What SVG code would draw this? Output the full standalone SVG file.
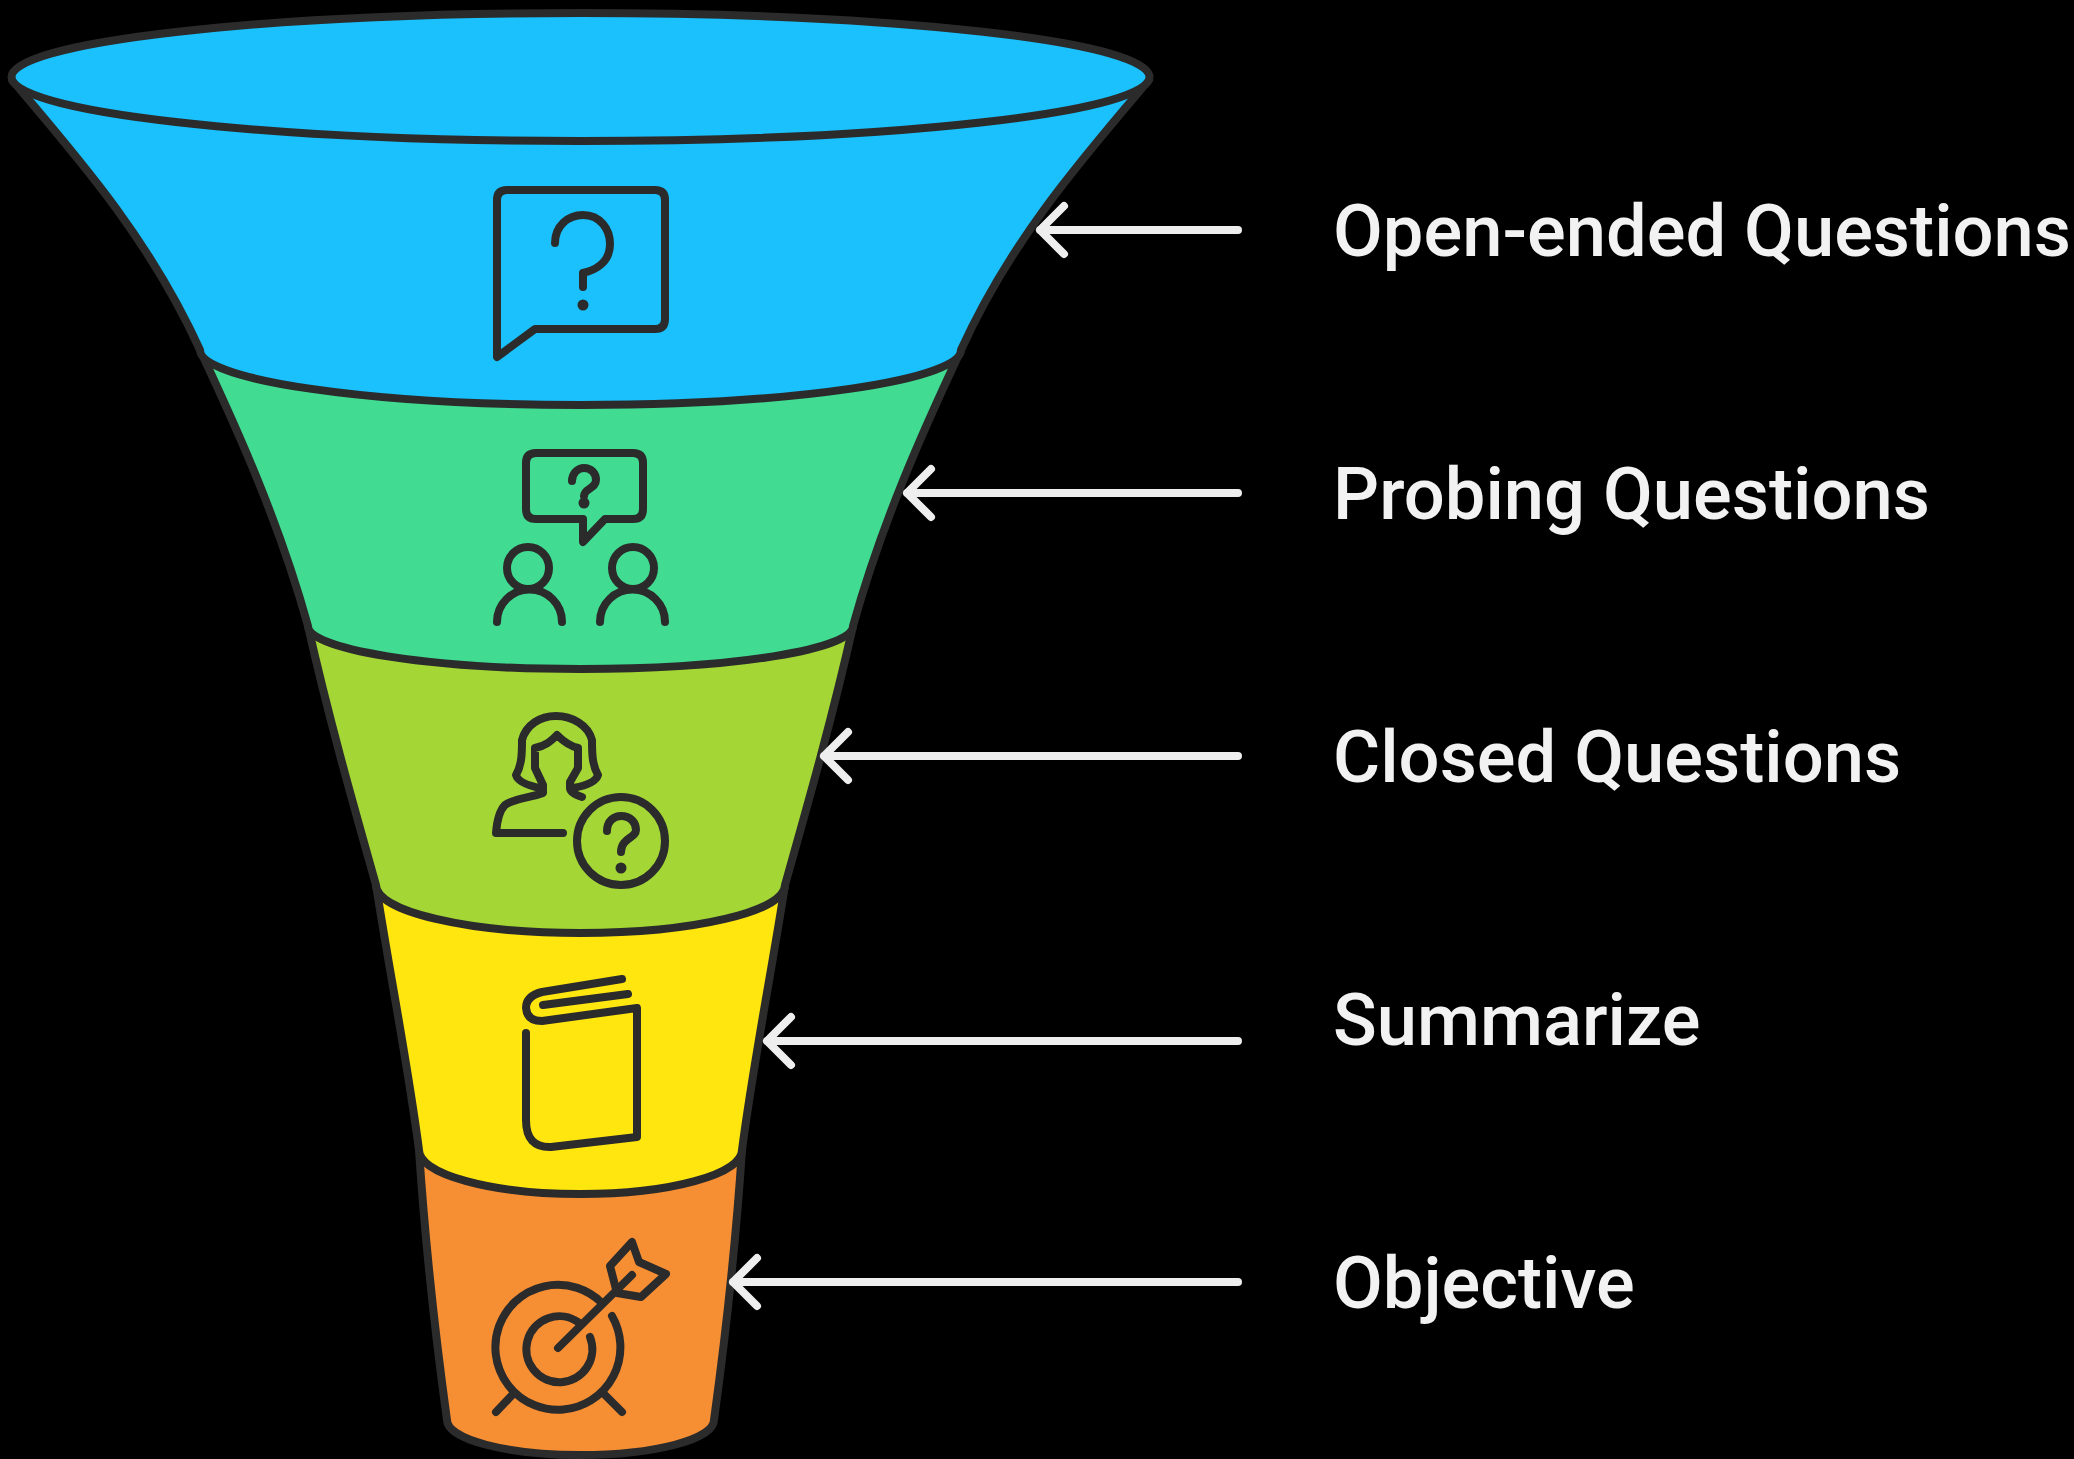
<svg xmlns="http://www.w3.org/2000/svg" width="2074" height="1459" viewBox="0 0 2074 1459">
<style>
.band{stroke:#2b2b2b;stroke-width:8;stroke-linejoin:round}
.ic{fill:none;stroke:#2b2b2b;stroke-width:8;stroke-linecap:round;stroke-linejoin:round}
.dot{fill:#2b2b2b}
.arr{fill:none;stroke:#eeeeee;stroke-width:8;stroke-linecap:round;stroke-linejoin:round}
.lb{font-family:Roboto,"Liberation Sans",sans-serif;font-size:72.300px;font-weight:500;fill:#f2f2f2}
</style>
<rect width="2074" height="1459" fill="#000000"/>
<g id="objective">
<path class="band" fill="#f68e33" d="M419 1150C425 1240 436 1340 447 1420A133.500 35 0 0 0 714 1420C725 1340 736 1240 742 1150Z"/>
<g class="ic"><path d="M602 1303A62.500 62.500 0 1 0 612 1316"/><path d="M578 1322A33 33 0 1 0 590 1337"/><path d="M558 1348L632 1275"/><path d="M610 1266L632 1242L639 1262L666 1274L641 1297L617 1293Z"/><path d="M514 1393L496 1412M603 1393L622 1412"/></g>
</g>
<g id="summarize">
<path class="band" fill="#ffe60f" d="M376 885C390 975 408 1065 419 1150A161.500 44 0 0 0 742 1150C753 1065 771 975 785 885Z"/>
<path class="ic" d="M622 979L542 992Q526 996 526 1008Q527 1021 542 1021L637 1008V1137L551 1147Q526 1148 526 1120V1033M543 1005L628 994"/>
</g>
<g id="closed">
<path class="band" fill="#a4d736" d="M308 626C328 715 352 800 376 885A204.500 48 0 0 0 785 885C809 800 833 715 853 626Z"/>
<g class="ic"><path d="M540 788C530 786 518 782 516 775C522 765 522 752 522 740C526 725 540 716 556 716C572 716 588 725 592 740C592 752 592 765 598 775C596 782 584 786 573 788"/><path d="M563 833H496C497 820 500 810 505 805C515 798 530 798 543 793V785L535 768V748C545 746 550 742 557 735C564 742 570 746 578 748V768L570 782V788C570 792 576 795 582 797"/><circle cx="621" cy="841" r="44"/><path d="M607 831C607 821 614 816 621 816C630 816 636 822 636 830C636 838 621 838 621 852"/></g>
<circle class="dot" cx="621" cy="868" r="5.5"/>
</g>
<g id="probing">
<path class="band" fill="#41dc92" d="M200 350C240 435 280 525 308 626A272.500 43 0 0 0 853 626C881 525 921 435 961 350Z"/>
<g class="ic"><path d="M536 453H633Q643 453 643 463V509Q643 519 633 519H605L583 542V519H536Q526 519 526 509V463Q526 453 536 453Z"/><path d="M572 481C572 473 578 468 584 468C591 468 596 473 596 480C596 489 584 488 584 496"/><circle cx="528" cy="568" r="21"/><circle cx="633" cy="568" r="21"/><path d="M497 622A32.500 32.500 0 0 1 562 622M600 622A32.500 32.500 0 0 1 665 622"/></g>
<circle class="dot" cx="584" cy="503" r="5.5"/>
</g>
<g id="open-ended">
<path class="band" fill="#1ac1fd" d="M12 80C80 160 150 240 200 350A380.500 55 0 0 0 961 350C1011 240 1081 160 1149 80Z"/>
<ellipse class="band" fill="#1ac1fd" cx="580.5" cy="77" rx="569" ry="64"/>
<g class="ic"><path d="M507 190H655Q665 190 665 200V319Q665 329 655 329H535L497 357V200Q497 190 507 190Z"/><path d="M555 243C555 226 568 215 583 215C600 215 610 229 610 244C610 262 596 270 583 273V287"/></g>
<circle class="dot" cx="583" cy="305" r="5.5"/>
</g>
<g id="connectors">
<path class="arr" d="M1238 230H1040M1064 206L1040 230L1064 254"/>
<path class="arr" d="M1238 493H907M931 469L907 493L931 517"/>
<path class="arr" d="M1238 756H824M848 732L824 756L848 780"/>
<path class="arr" d="M1238 1041H767M791 1017L767 1041L791 1065"/>
<path class="arr" d="M1238 1282H733M757 1258L733 1282L757 1306"/>
</g>
<g id="labels">
<text class="lb" x="1333" y="256">Open-ended Questions</text>
<text class="lb" x="1333" y="519">Probing Questions</text>
<text class="lb" x="1333" y="782">Closed Questions</text>
<text class="lb" x="1333" y="1045">Summarize</text>
<text class="lb" x="1333" y="1308">Objective</text>
</g>
</svg>
